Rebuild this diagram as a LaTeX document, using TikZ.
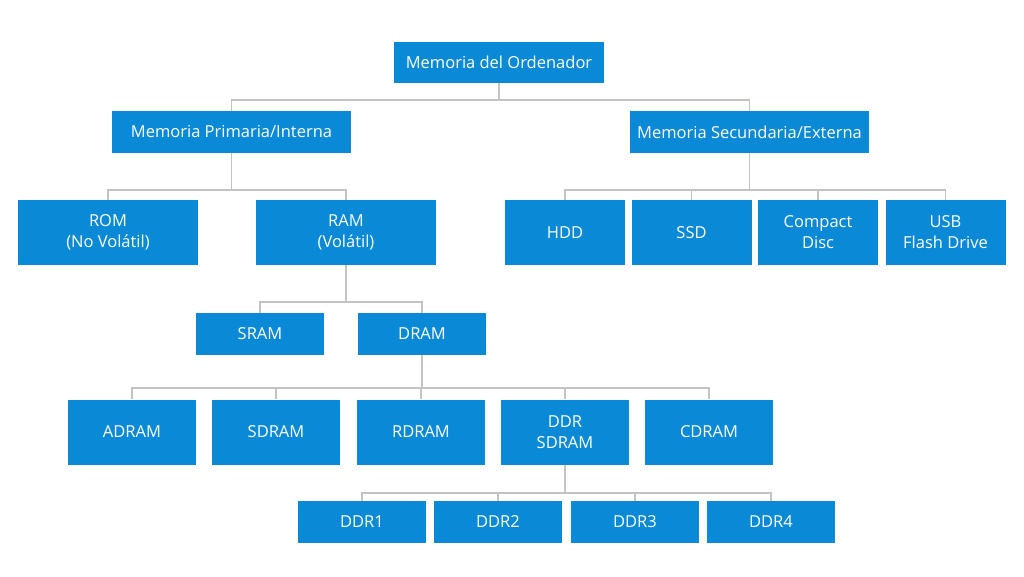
\documentclass[tikz,border=0pt]{standalone}
\usepackage{fontspec}
\setmainfont{Open Sans}
\usetikzlibrary{positioning,calc}
\definecolor{caja}{RGB}{10,138,214}
\definecolor{linea}{RGB}{195,195,195}

\begin{document}
\begin{tikzpicture}[x=1pt,y=-1pt,
	caja/.style={fill=caja,text=white,align=center,inner sep=0pt,font=\fontsize{16.5}{21}\selectfont},
	ancha/.style={caja,minimum width=239pt,minimum height=42pt},
	media/.style={caja,minimum width=180pt,minimum height=65pt},
	chica/.style={caja,minimum width=120pt,minimum height=65pt},
	baja/.style={caja,minimum width=128pt,minimum height=42pt},
	alta/.style={caja,minimum width=128pt,minimum height=65pt},
	rama/.style={draw=linea,line width=1.2pt}]
\useasboundingbox (0,0) rectangle (1024,576);

% nivel 0 y 1
\node [caja,minimum width=210pt,minimum height=41pt] (mem) at (499,62.5) {Memoria del Ordenador};
\node [ancha] (prim) at (231.5,132) {Memoria Primaria/Interna};
\node [ancha] (sec) at (749.5,132) {Memoria Secundaria/Externa};

% nivel 2
\node [media] (rom) at (108,232.5) {ROM\\(No Volátil)};
\node [media] (ram) at (346,232.5) {RAM\\(Volátil)};
\node [chica] (hdd) at (565,232.5) {HDD};
\node [chica] (ssd) at (691.5,232.5) {SSD};
\node [chica] (cd) at (818,232.5) {Compact\\Disc};
\node [chica] (usb) at (945.5,232.5) {USB\\Flash Drive};

% nivel 3
\node [baja] (sram) at (260,334) {SRAM};
\node [baja] (dram) at (422,334) {DRAM};

% nivel 4
\node [alta] (adram) at (132,432) {ADRAM};
\node [alta] (sdram) at (276,432) {SDRAM};
\node [alta] (rdram) at (421,432) {RDRAM};
\node [alta] (ddr) at (565,432) {DDR\\SDRAM};
\node [alta] (cdram) at (709,432) {CDRAM};

% nivel 5
\node [baja] (ddr1) at (362,522) {DDR1};
\node [baja] (ddr2) at (498,522) {DDR2};
\node [baja] (ddr3) at (635,522) {DDR3};
\node [baja] (ddr4) at (771,522) {DDR4};

% ramas
\coordinate (b0) at (499,100);
\coordinate (b1) at (231.5,190);
\coordinate (b2) at (749.5,190);
\coordinate (b3) at (346,302);
\coordinate (b4) at (422,388);
\coordinate (b5) at (565,493);
\draw [rama] (mem) -- (b0);
\draw [rama] (prim) -- (b1);
\draw [rama] (sec) -- (b2);
\draw [rama] (ram) -- (b3);
\draw [rama] (dram) -- (b4);
\draw [rama] (ddr) -- (b5);
\foreach \n in {prim,sec} \draw [rama] (\n.north) |- (b0);
\foreach \n in {rom,ram} \draw [rama] (\n.north) |- (b1);
\foreach \n in {hdd,ssd,cd,usb} \draw [rama] (\n.north) |- (b2);
\foreach \n in {sram,dram} \draw [rama] (\n.north) |- (b3);
\foreach \n in {adram,sdram,rdram,ddr,cdram} \draw [rama] (\n.north) |- (b4);
\foreach \n in {ddr1,ddr2,ddr3,ddr4} \draw [rama] (\n.north) |- (b5);
\end{tikzpicture}
\end{document}
